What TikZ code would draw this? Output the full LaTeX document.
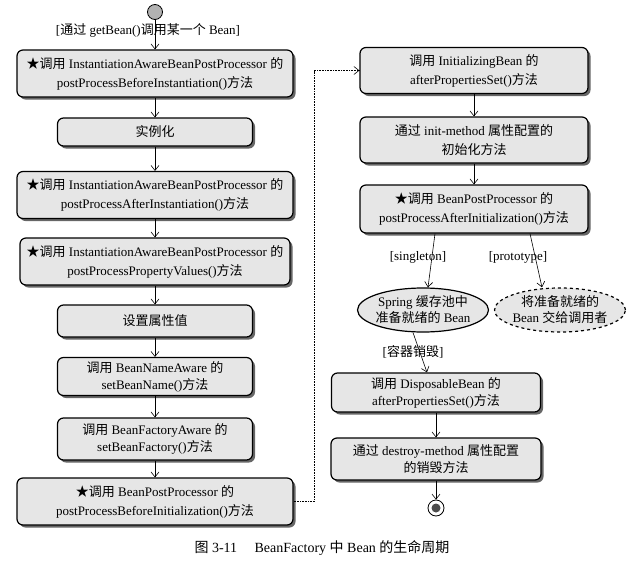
\documentclass[tikz,border=0pt]{standalone}
\usepackage{fontspec}
\setmainfont{Liberation Serif}
\newfontfamily\cjk{Noto Sans CJK SC}
\newcommand{\zh}[1]{{\cjk #1}}
\usepackage{xcolor}
\definecolor{boxgray}{HTML}{E6E6E6}
\usetikzlibrary{arrows.meta, positioning, shapes.geometric, shadows}

\begin{document}
\begin{tikzpicture}[x=1pt, y=-1pt,
    font=\fontsize{13}{19}\selectfont,
    act/.style={draw, line width=1.2pt, rounded corners=6pt, fill=boxgray,
      align=center, inner sep=2pt,
      drop shadow={shadow xshift=2.5pt, shadow yshift=-2.5pt, fill=black!60, opacity=1}},
    wide/.style={minimum width=276pt, minimum height=47pt},
    narrow/.style={minimum width=195pt},
    rcol/.style={minimum width=228pt, minimum height=46pt},
    state/.style={ellipse, draw, line width=1.2pt, fill=boxgray, align=center,
      inner xsep=-8pt, inner ysep=-4pt, minimum width=131pt, minimum height=44pt,
      font=\fontsize{13}{16}\selectfont},
    flow/.style={-{Straight Barb[length=5pt, width=8pt]}, line width=0.6pt},
    guard/.style={inner sep=1pt}
  ]
  \useasboundingbox (0,0) rectangle (630,568);

  % start
  \node[circle, draw, fill=gray!60, line width=0.8pt, minimum size=15pt, inner sep=0pt] (start) at (155,12) {};
  \node[guard] (get) at (148,30) {[\zh{通过} getBean()\zh{调用某一个} Bean]};

  % left column
  \node[act, wide] (b1) at (155,73.5) {\zh{★调用} InstantiationAwareBeanPostProcessor \zh{的}\\postProcessBeforeInstantiation()\zh{方法}};
  \node[act, narrow, minimum height=28pt] (b2) at (155,132) {\zh{实例化}};
  \node[act, wide] (b3) at (155,195) {\zh{★调用} InstantiationAwareBeanPostProcessor \zh{的}\\postProcessAfterInstantiation()\zh{方法}};
  \node[act, minimum width=270pt, minimum height=47pt] (b4) at (155,261.5) {\zh{★调用} InstantiationAwareBeanPostProcessor \zh{的}\\postProcessPropertyValues()\zh{方法}};
  \node[act, narrow, minimum height=32pt] (b5) at (155,321) {\zh{设置属性值}};
  \node[act, narrow, minimum height=38pt, font=\fontsize{13}{17}\selectfont] (b6) at (155,376.5) {\zh{调用} BeanNameAware \zh{的}\\setBeanName()\zh{方法}};
  \node[act, narrow, minimum height=42pt, font=\fontsize{13}{17}\selectfont] (b7) at (155,439) {\zh{调用} BeanFactoryAware \zh{的}\\setBeanFactory()\zh{方法}};
  \node[act, wide] (b8) at (155,501.5) {\zh{★调用} BeanPostProcessor \zh{的}\\postProcessBeforeInitialization()\zh{方法}};

  % right column
  \node[act, rcol] (b9) at (474,70.5) {\zh{调用} InitializingBean \zh{的}\\afterPropertiesSet()\zh{方法}};
  \node[act, rcol] (b10) at (474,140) {\zh{通过} init-method \zh{属性配置的}\\\zh{初始化方法}};
  \node[act, rcol, minimum height=48pt] (b11) at (474,209) {\zh{★调用} BeanPostProcessor \zh{的}\\postProcessAfterInitialization()\zh{方法}};
  \node[state] (e1) at (423,310) {Spring \zh{缓存池中}\\\zh{准备就绪的} Bean};
  \node[state, dashed] (e2) at (560,310) {\zh{将准备就绪的}\\Bean \zh{交给调用者}};
  \node[act, minimum width=209pt, minimum height=39pt, font=\fontsize{13}{17}\selectfont] (b12) at (436,392.5) {\zh{调用} DisposableBean \zh{的}\\afterPropertiesSet()\zh{方法}};
  \node[act, minimum width=210pt, minimum height=42pt, font=\fontsize{13}{17}\selectfont] (b13) at (436,459) {\zh{通过} destroy-method \zh{属性配置}\\\zh{的销毁方法}};

  % end
  \node[circle, draw, fill=white, line width=0.8pt, minimum size=16pt, inner sep=0pt] (stop) at (436,508) {};
  \node[circle, fill=black!70, minimum size=9pt, inner sep=0pt] (stopdot) at (stop) {};

  % flows
  \draw[flow] (start) -- (b1);
  \foreach \a/\b in {b1/b2, b2/b3, b3/b4, b4/b5, b5/b6, b6/b7, b7/b8, b9/b10, b10/b11, b12/b13, b13/stop}
    \draw[flow] (\a) -- (\b);

  \coordinate (bend) at (314,0);
  \draw[flow, densely dotted] (b8.east) -- (b8.east -| bend) -- (b9.west -| bend) -- (b9.west);

  \draw[flow] ([xshift=-39pt]b11.south) -- ([xshift=5pt]e1.north);
  \draw[flow] ([xshift=56pt]b11.south) -- ([xshift=-18pt]e2.north);
  \draw[flow] ([xshift=-10pt]e1.south) -- ([xshift=-9pt]b12.north);

  \node[guard] (single) at (418,257) {[singleton]};
  \node[guard] (proto) at (518,257) {[prototype]};
  \node[guard] (destroy) at (413,352) {[\zh{容器销毁}]};

  % caption
  \node (cap) at (322,548) {\fontsize{14}{16}\selectfont\zh{图} 3-11\quad\ BeanFactory \zh{中} Bean \zh{的生命周期}};
\end{tikzpicture}
\end{document}
